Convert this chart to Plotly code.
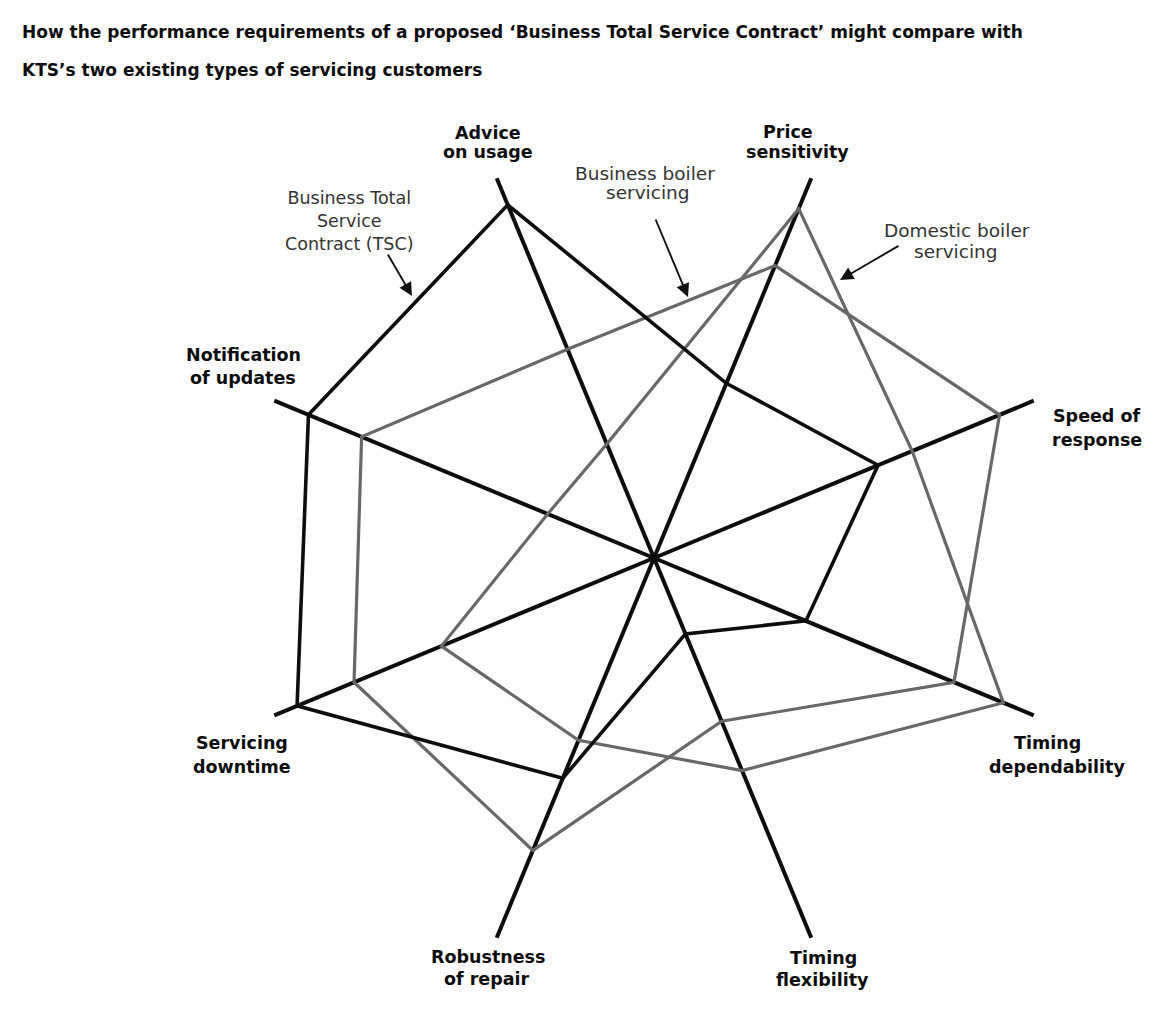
import plotly.graph_objects as go

# page is 1171x1013; the browser adds an 8px body margin, so the figure is 16px smaller
PAGE_W, PAGE_H, OFF = 1171, 1013, 8
W, H = PAGE_W - 2 * OFF, PAGE_H - 2 * OFF

# ---------------- data ----------------
categories = ["Advice on usage", "Price sensitivity", "Speed of response",
              "Timing dependability", "Timing flexibility", "Robustness of repair",
              "Servicing downtime", "Notification of updates"]
tsc_values = [9.3, 4.6, 5.9, 4.0, 2.0, 5.8, 9.4, 9.1]        # Business Total Service Contract
business_values = [5.5, 7.7, 9.1, 7.9, 4.3, 7.7, 7.9, 7.7]   # Business boiler servicing
domestic_values = [3.0, 9.2, 6.8, 9.2, 5.6, 4.8, 5.6, 2.8]   # Domestic boiler servicing

axis_label_lines = [["Advice", "on usage"], ["Price", "sensitivity"], ["Speed of", "response"],
                    ["Timing", "dependability"], ["Timing", "flexibility"],
                    ["Robustness", "of repair"], ["Servicing", "downtime"],
                    ["Notification", "of updates"]]
title_lines = ["How the performance requirements of a proposed \u2018Business Total Service Contract\u2019 might compare with",
               "KTS\u2019s two existing types of servicing customers"]
series_note_lines = [["Business Total", "Service", "Contract (TSC)"],
                     ["Business boiler", "servicing"],
                     ["Domestic boiler", "servicing"]]

# ---------------- layout helpers ----------------
def px(x, y):
    """page pixel -> paper fraction"""
    return (x - OFF) / W, 1 - (y - OFF) / H

CX, CY, R = 654, 558, 411
BLACK = "#0d0d0d"
GREY = "#686868"

fig = go.Figure()

def closed(v):
    return list(v) + [v[0]]

cats_closed = closed(categories)
fig.add_trace(go.Scatterpolar(r=closed(business_values), theta=cats_closed, mode="lines",
                              line=dict(color=GREY, width=3.2), name="Business boiler servicing",
                              showlegend=False))
fig.add_trace(go.Scatterpolar(r=closed(domestic_values), theta=cats_closed, mode="lines",
                              line=dict(color=GREY, width=3.2), name="Domestic boiler servicing",
                              showlegend=False))
fig.add_trace(go.Scatterpolar(r=closed(tsc_values), theta=cats_closed, mode="lines",
                              line=dict(color=BLACK, width=3.6), name="Business TSC",
                              showlegend=False))

x0, _ = px(CX - R, 0)
x1, _ = px(CX + R, 0)
_, yc = px(0, CY)
hy = R / H

fig.update_layout(
    width=W, height=H,
    margin=dict(l=0, r=0, t=0, b=0),
    paper_bgcolor="white",
    showlegend=False,
    polar=dict(
        domain=dict(x=[x0, x1], y=[yc - hy, yc + hy]),
        bgcolor="rgba(0,0,0,0)",
        radialaxis=dict(visible=False, range=[0, 10]),
        angularaxis=dict(type="category", categoryarray=categories, rotation=112.5,
                         direction="clockwise", showline=False, ticks="",
                         showticklabels=False, showgrid=True, gridcolor=BLACK,
                         gridwidth=3.8),
    ),
)

annotations = []

def add_lines(lines, centers, ys, size, bold, color, anchor="center"):
    for text, x, y in zip(lines, centers, ys):
        ax_, ay_ = px(x, y)
        annotations.append(dict(
            text=f"<b>{text}</b>" if bold else text,
            x=ax_, y=ay_, xref="paper", yref="paper", showarrow=False,
            xanchor=anchor, yanchor="middle",
            font=dict(family="DejaVu Sans", size=size, color=color)))

# title
add_lines(title_lines, [20, 20], [32, 70], 17, True, BLACK, anchor="left")

# axis labels (line centre positions)
label_pos = [([488, 488], [133, 152]), ([788, 797], [132, 152]), ([1097, 1097], [416, 440]),
             ([1047, 1057], [743, 767]), ([823, 822], [958, 980]), ([488, 487], [957, 979]),
             ([242, 242], [743, 767]), ([243, 243], [355, 378])]
for lines, (xs, ys) in zip(axis_label_lines, label_pos):
    add_lines(lines, xs, ys, 17.5, True, BLACK)

# series notes: the three-line TSC note is one wrapped text block
tsc_x, tsc_y = px(349, 221)
annotations.append(dict(text="<br>".join(series_note_lines[0]), x=tsc_x, y=tsc_y,
                        xref="paper", yref="paper", showarrow=False,
                        xanchor="center", yanchor="middle", align="center",
                        font=dict(family="DejaVu Sans", size=17.5, color="#333333")))
note_pos = [([645, 648], [173, 193]), ([957, 956], [231, 251])]
for lines, (xs, ys) in zip(series_note_lines[1:], note_pos):
    add_lines(lines, xs, ys, 18.5, False, "#333333")

# arrows: (tip x, tip y, tail offset x, tail offset y)
arrows = [(412, 296, -25, -43), (688, 297, -33, -79), (840, 280, 60, -35)]
for tx, ty, dx, dy in arrows:
    ax_, ay_ = px(tx, ty)
    annotations.append(dict(text="", x=ax_, y=ay_, xref="paper", yref="paper",
                            showarrow=True, ax=dx, ay=dy, arrowhead=2, arrowsize=1.4,
                            arrowwidth=1.9, arrowcolor="#111111"))

fig.update_layout(annotations=annotations)
fig.write_html("out.html")
